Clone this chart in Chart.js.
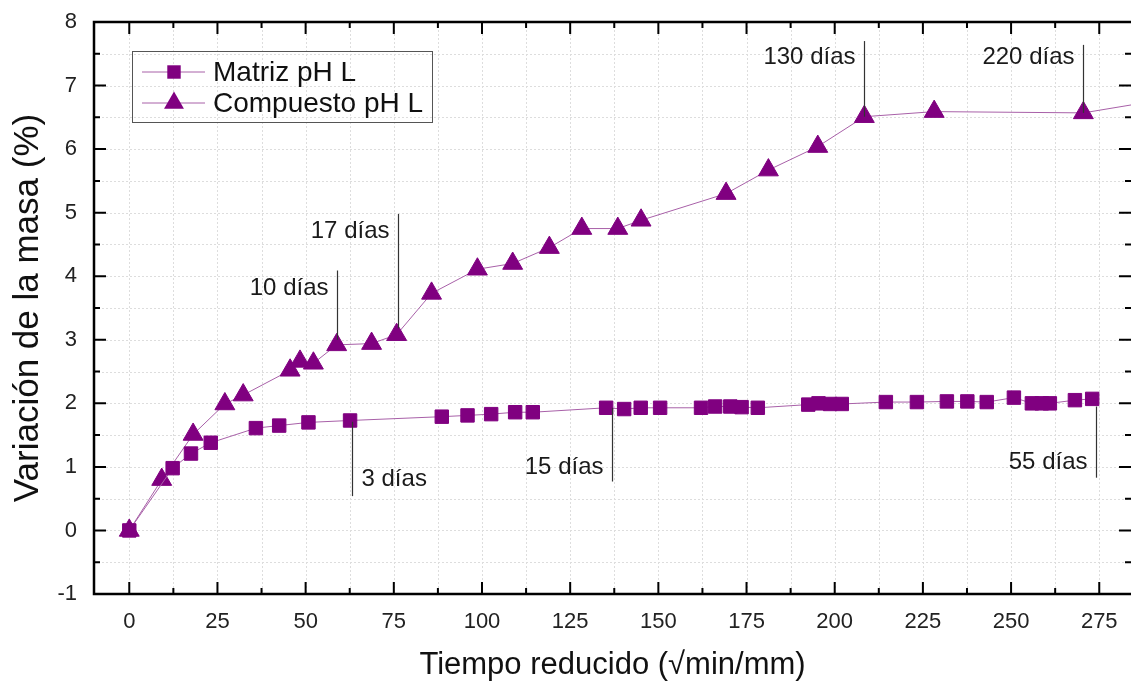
<!DOCTYPE html>
<html>
<head>
<meta charset="utf-8">
<script src="https://cdn.jsdelivr.net/npm/chart.js@4.4.0/dist/chart.umd.min.js"></script>
<style>
  body { margin: 0; background: #fff; }
</style>
</head>
<body>
<canvas id="chart" width="1131" height="687"></canvas>
<script>
// Matriz pH L (squares)
const matrizX = [0, 12.3, 17.5, 23.1, 35.9, 42.5, 50.8, 62.6, 88.6, 95.9, 102.6, 109.4, 114.4,
  135.2, 140.3, 145.0, 150.5, 162.1, 166.1, 170.4, 173.6, 178.2, 192.5, 195.4, 198.7, 202.0,
  214.5, 223.3, 231.8, 237.6, 243.1, 250.8, 255.9, 258.7, 261.0, 268.1, 273.0];
const matrizY = [0, 0.98, 1.21, 1.38, 1.61, 1.65, 1.70, 1.73, 1.79, 1.81, 1.83, 1.86, 1.86,
  1.93, 1.91, 1.93, 1.93, 1.93, 1.95, 1.95, 1.94, 1.93, 1.98, 2.00, 1.99, 1.99,
  2.02, 2.02, 2.03, 2.03, 2.02, 2.09, 2.00, 2.00, 2.00, 2.05, 2.07];

// Compuesto pH L (triangles)
const compX = [0, 9.2, 18.1, 27.1, 32.3, 45.6, 48.4, 52.2, 58.8, 68.7, 75.8, 85.7, 98.7,
  108.7, 119.1, 128.3, 138.5, 145.1, 169.2, 181.2, 195.2, 208.4, 228.2, 270.5, 290];
const compY = [0, 0.80, 1.51, 1.99, 2.13, 2.52, 2.66, 2.63, 2.92, 2.94, 3.08, 3.73, 4.11,
  4.20, 4.45, 4.75, 4.75, 4.88, 5.30, 5.67, 6.04, 6.51, 6.59, 6.57, 6.75];

const xTickLabels = [0, 25, 50, 75, 100, 125, 150, 175, 200, 225, 250, 275];
const yTickLabels = [-1, 0, 1, 2, 3, 4, 5, 6, 7, 8];

// leader-line notes
const annText = ['10 días', '17 días', '3 días', '15 días', '130 días', '220 días', '55 días'];
const annX = [58.8, 76.3, 63.2, 136.8, 208.4, 270.5, 274.1];
const annTop = [4.09, 4.98, 1.71, 1.93, 7.70, 7.64, 1.95];
const annBottom = [3.00, 3.18, 0.54, 0.77, 6.51, 6.57, 0.83];
const annTextY = [3.81, 4.70, 0.80, 0.99, 7.44, 7.44, 1.07];
const annSide = ['left', 'left', 'right', 'left', 'left', 'left', 'left'];

const font = "'Liberation Sans', Arial, sans-serif";
const purple = '#800080';
const lineColor = '#a860a8';

function toPoints(xs, ys) {
  return xs.map((v, i) => ({ x: v, y: ys[i] }));
}

// no extra room for the end labels, the frame is placed by hand
function noPad(s) {
  s.paddingLeft = 0; s.paddingRight = 0; s.paddingTop = 0; s.paddingBottom = 0;
}

const originPlugin = {
  id: 'originLook',
  beforeDatasetsDraw(chart) {
    const { ctx, chartArea: a, scales: { x, y } } = chart;
    ctx.save();
    ctx.strokeStyle = '#dddddd';
    ctx.lineWidth = 1;
    ctx.setLineDash([2, 2]);
    for (let v = 0; v <= x.max; v += 12.5) {
      const px = Math.round(x.getPixelForValue(v)) + 0.5;
      ctx.beginPath(); ctx.moveTo(px, a.top); ctx.lineTo(px, a.bottom); ctx.stroke();
    }
    for (let v = y.min + 0.5; v < y.max; v += 0.5) {
      const py = Math.round(y.getPixelForValue(v)) + 0.5;
      ctx.beginPath(); ctx.moveTo(a.left, py); ctx.lineTo(a.right, py); ctx.stroke();
    }
    ctx.restore();
  },
  afterDatasetsDraw(chart) {
    const { ctx, chartArea: a, scales: { x, y } } = chart;
    ctx.save();
    // notes
    ctx.strokeStyle = '#333';
    ctx.lineWidth = 1.2;
    ctx.fillStyle = '#1a1a1a';
    ctx.font = '24px ' + font;
    ctx.textBaseline = 'middle';
    annText.forEach((t, i) => {
      const px = Math.round(x.getPixelForValue(annX[i])) + 0.5;
      ctx.beginPath();
      ctx.moveTo(px, y.getPixelForValue(annTop[i]));
      ctx.lineTo(px, y.getPixelForValue(annBottom[i]));
      ctx.stroke();
      const ty = y.getPixelForValue(annTextY[i]);
      if (annSide[i] === 'left') {
        ctx.textAlign = 'right';
        ctx.fillText(t, px - 9, ty);
      } else {
        ctx.textAlign = 'left';
        ctx.fillText(t, px + 9, ty);
      }
    });

    // frame and inward ticks
    ctx.strokeStyle = '#000';
    ctx.lineWidth = 2.5;
    ctx.beginPath();
    ctx.moveTo(a.right + 5, a.top); ctx.lineTo(a.left, a.top);
    ctx.lineTo(a.left, a.bottom); ctx.lineTo(a.right + 5, a.bottom);
    ctx.stroke();
    ctx.lineWidth = 2;
    for (let v = 0; v <= x.max; v += 12.5) {
      const px = x.getPixelForValue(v);
      const len = v % 25 === 0 ? 12 : 6;
      ctx.beginPath();
      ctx.moveTo(px, a.bottom); ctx.lineTo(px, a.bottom - len);
      ctx.moveTo(px, a.top); ctx.lineTo(px, a.top + len);
      ctx.stroke();
    }
    for (let v = y.min + 0.5; v < y.max; v += 0.5) {
      const py = y.getPixelForValue(v);
      const len = v % 1 === 0 ? 12 : 6;
      ctx.beginPath();
      ctx.moveTo(a.left, py); ctx.lineTo(a.left + len, py);
      ctx.moveTo(a.right, py); ctx.lineTo(a.right - len, py);
      ctx.stroke();
    }
    ctx.restore();
  },
  afterDraw(chart) {
    const { ctx } = chart;
    const ds = chart.data.datasets;
    ctx.save();
    ctx.strokeStyle = '#555';
    ctx.lineWidth = 1;
    ctx.strokeRect(132.5, 51.5, 300, 71);
    const rows = [72, 103];
    rows.forEach((ry, i) => {
      ctx.strokeStyle = lineColor;
      ctx.lineWidth = 1;
      ctx.beginPath(); ctx.moveTo(142, ry); ctx.lineTo(205, ry); ctx.stroke();
      ctx.fillStyle = purple;
      const cx = 174;
      ctx.beginPath();
      if (ds[i].pointStyle === 'rect') {
        const h = ds[i].pointRadius * Math.SQRT1_2;
        ctx.rect(cx - h, ry - h, 2 * h, 2 * h);
      } else {
        const r = ds[i].pointRadius;
        ctx.moveTo(cx, ry - r);
        ctx.lineTo(cx + r * Math.sin(Math.PI / 3), ry + r / 2);
        ctx.lineTo(cx - r * Math.sin(Math.PI / 3), ry + r / 2);
        ctx.closePath();
      }
      ctx.fill();
      ctx.fillStyle = '#111';
      ctx.font = '28px ' + font;
      ctx.textAlign = 'left';
      ctx.textBaseline = 'middle';
      ctx.fillText(ds[i].label, 213, ry + 1);
    });
    ctx.restore();
  }
};

new Chart(document.getElementById('chart'), {
  type: 'line',
  data: {
    datasets: [
      {
        label: 'Matriz pH L',
        data: toPoints(matrizX, matrizY),
        borderColor: lineColor,
        borderWidth: 1,
        pointStyle: 'rect',
        pointRadius: 9.5,
        pointBackgroundColor: purple,
        pointBorderColor: purple,
        pointBorderWidth: 1,
        tension: 0
      },
      {
        label: 'Compuesto pH L',
        data: toPoints(compX, compY),
        borderColor: lineColor,
        borderWidth: 1,
        pointStyle: 'triangle',
        pointRadius: 11.5,
        pointBackgroundColor: purple,
        pointBorderColor: purple,
        pointBorderWidth: 1,
        tension: 0
      }
    ]
  },
  options: {
    responsive: false,
    animation: false,
    layout: { autoPadding: false, padding: { top: 22, right: 0, bottom: 0, left: 0 } },
    plugins: {
      legend: { display: false },
      tooltip: { enabled: false }
    },
    scales: {
      x: {
        type: 'linear',
        min: -10,
        max: 284,
        afterBuildTicks: s => { s.ticks = xTickLabels.map(v => ({ value: v })); },
        afterFit: s => { s.height = 93; noPad(s); },
        grid: { display: false, drawTicks: false },
        border: { display: false },
        ticks: { font: { size: 22, family: font }, color: '#222', padding: 15, maxRotation: 0, autoSkip: false },
        title: {
          display: true,
          text: 'Tiempo reducido (√min/mm)',
          color: '#111',
          font: { size: 31, family: font, lineHeight: 1 },
          padding: { top: 0, bottom: 6 }
        }
      },
      y: {
        type: 'linear',
        min: -1,
        max: 8,
        afterBuildTicks: s => { s.ticks = yTickLabels.map(v => ({ value: v })); },
        afterFit: s => { s.width = 94; noPad(s); },
        grid: { display: false, drawTicks: false },
        border: { display: false },
        ticks: { font: { size: 22, family: font }, color: '#222', padding: 17 },
        title: {
          display: true,
          text: 'Variación de la masa (%)',
          color: '#111',
          font: { size: 35, family: font, lineHeight: 1 },
          padding: { top: 11, bottom: 0 }
        }
      }
    }
  },
  plugins: [originPlugin]
});
</script>
</body>
</html>
